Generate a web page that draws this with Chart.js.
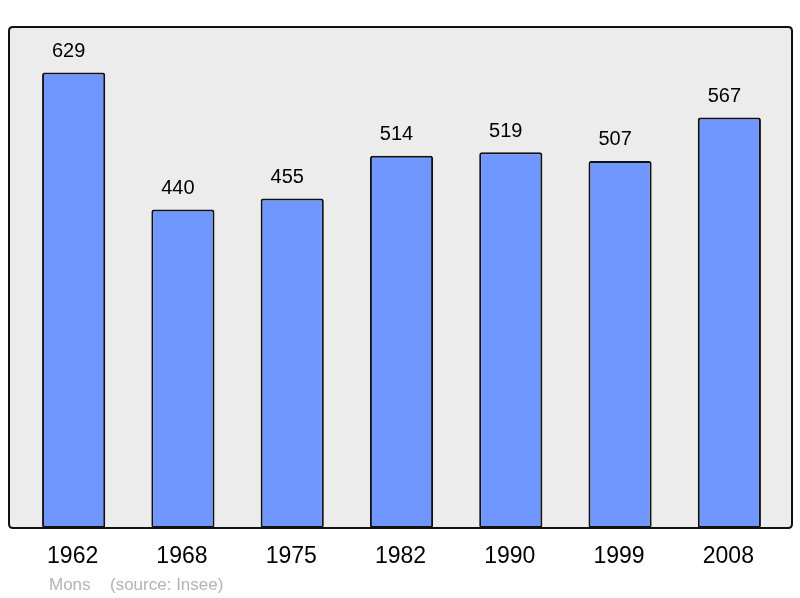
<!DOCTYPE html>
<html>
<head>
<meta charset="utf-8">
<script src="https://cdn.jsdelivr.net/npm/chart.js@4/dist/chart.umd.min.js"></script>
<style>
  html, body { margin: 0; padding: 0; background: #fff; }
  #wrap { width: 800px; height: 598px; position: relative; }
</style>
</head>
<body>
<div id="wrap"><canvas id="popChart"></canvas></div>
<script>
const years = ['1962', '1968', '1975', '1982', '1990', '1999', '2008'];
const population = [629, 440, 455, 514, 519, 507, 567];
const yMax = 692;
const townName = 'Mons';
const sourceText = '(source: Insee)';

function roundRect(ctx, x, y, w, h, r) {
    ctx.beginPath();
    ctx.moveTo(x + r, y);
    ctx.lineTo(x + w - r, y);
    ctx.quadraticCurveTo(x + w, y, x + w, y + r);
    ctx.lineTo(x + w, y + h - r);
    ctx.quadraticCurveTo(x + w, y + h, x + w - r, y + h);
    ctx.lineTo(x + r, y + h);
    ctx.quadraticCurveTo(x, y + h, x, y + h - r);
    ctx.lineTo(x, y + r);
    ctx.quadraticCurveTo(x, y, x + r, y);
    ctx.closePath();
}

const frame = {
    id: 'frame',
    beforeDatasetsDraw(chart) {
        const { ctx, chartArea: a } = chart;
        ctx.save();
        roundRect(ctx, 9, a.top, 783, a.bottom - a.top, 4);
        ctx.fillStyle = '#ececec';
        ctx.fill();
        ctx.restore();
    },
    afterDatasetsDraw(chart) {
        const { ctx, chartArea: a, scales } = chart;
        ctx.save();
        roundRect(ctx, 9, a.top, 783, a.bottom - a.top, 4);
        ctx.lineWidth = 2;
        ctx.strokeStyle = '#111';
        ctx.stroke();

        // value labels (sit a little left of bar centre, as in the original)
        ctx.fillStyle = '#000';
        ctx.textAlign = 'center';
        ctx.textBaseline = 'middle';
        ctx.font = '20px "Liberation Sans", Arial, sans-serif';
        population.forEach((v, i) => {
            const x = scales.x.getPixelForValue(i);
            const y = scales.y.getPixelForValue(v);
            ctx.fillText(String(v), x - 5, y - 21);
        });

        // year labels
        ctx.font = '23px "Liberation Sans", Arial, sans-serif';
        years.forEach((yr, i) => {
            ctx.fillText(yr, scales.x.getPixelForValue(i) - 1, a.bottom + 29);
        });

        // footer
        ctx.fillStyle = '#b3b3b3';
        ctx.textAlign = 'left';
        ctx.font = '17px "Liberation Sans", Arial, sans-serif';
        ctx.fillText(townName, 49, a.bottom + 57);
        ctx.fillText(sourceText, 110, a.bottom + 57);
        ctx.restore();
    }
};

new Chart(document.getElementById('popChart'), {
    type: 'bar',
    data: {
        labels: years,
        datasets: [{
            data: population,
            backgroundColor: '#7097ff',
            borderColor: '#111',
            borderWidth: 2,
            borderRadius: 2.5,
            borderSkipped: false,
            barPercentage: 0.578,
            categoryPercentage: 1
        }]
    },
    options: {
        responsive: true,
        maintainAspectRatio: false,
        animation: false,
        layout: { padding: { left: 19, right: 16, top: 27, bottom: 70 } },
        plugins: { legend: { display: false }, tooltip: { enabled: false } },
        scales: {
            x: { display: false, offset: true },
            y: { display: false, min: 0, max: yMax }
        }
    },
    plugins: [frame]
});
</script>
</body>
</html>
